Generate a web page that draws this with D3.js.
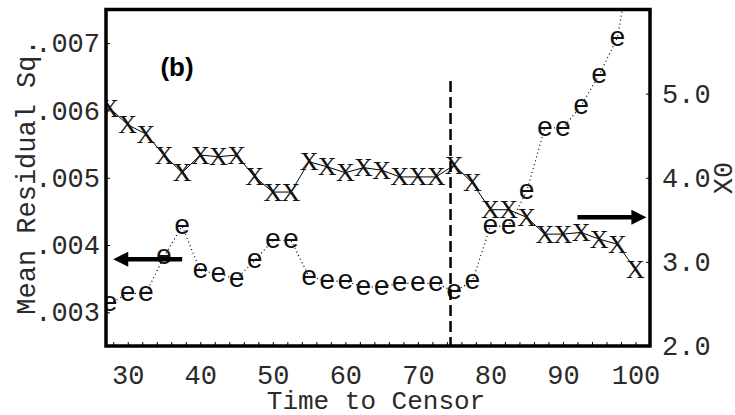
<!DOCTYPE html>
<html>
<head>
<meta charset="utf-8">
<script src="https://cdn.jsdelivr.net/npm/d3@7"></script>
<style>
  body { margin: 0; background: white; }
  svg { display: block; }
</style>
</head>
<body>
<div id="vis"></div>
<script>
// chart data
let timeToCensor = [27.5, 30, 32.5, 35, 37.5, 40, 42.5, 45, 47.5, 50, 52.5, 55, 57.5, 60, 62.5,
  65, 67.5, 70, 72.5, 75, 77.5, 80, 82.5, 85, 87.5, 90, 92.5, 95, 97.5, 100];
// "X" markers, right axis (X0)
let x0Values = [4.83, 4.63, 4.52, 4.27, 4.06, 4.27, 4.25, 4.27, 4.01, 3.83, 3.83, 4.19, 4.13, 4.06, 4.12,
  4.09, 4.01, 4.01, 4.01, 4.15, 3.94, 3.62, 3.62, 3.53, 3.33, 3.33, 3.35, 3.27, 3.21, 2.91];
// "e" markers, left axis (Mean Residual Sq.)
let mrsValues = [.00313, .00328, .00328, .00383, .00428, .00362, .00357, .00350, .00377, .00407, .00407,
  .00353, .00347, .00346, .00338, .00338, .00343, .00343, .00343, .00331, .00346, .00428, .00428,
  .00480, .00574, .00574, .00607, .00653, .00708, .0086];
let xTicks = [30, 40, 50, 60, 70, 80, 90, 100];
let leftTicks = [.003, .004, .005, .006, .007];
let rightTicks = [2, 3, 4, 5];
let censorTime = 74.5;
let censorTop = 5.15;   // top of the dashed line, right-axis units

let margin = { top: 9.5, left: 106, right: 85, bottom: 69 },
  W = 735, H = 415,
  width = W - margin.left - margin.right,
  height = H - margin.top - margin.bottom;

let mono = '"Liberation Mono", "Courier New", monospace';

let svg = d3.select('#vis')
  .append('svg')
  .attr('width', W)
  .attr('height', H)
  .style('background-color', 'white');

let x = d3.scaleLinear().domain([27, 102]).range([margin.left, margin.left + width]);
let yL = d3.scaleLinear().domain([0.0025, 0.0075]).range([margin.top + height, margin.top]);
let yR = d3.scaleLinear().domain([2, 6]).range([margin.top + height, margin.top]);

svg.append('defs').append('clipPath').attr('id', 'plot')
  .append('rect')
  .attr('x', margin.left).attr('y', margin.top)
  .attr('width', width).attr('height', height);

// axes
let fmtL = d => d3.format('.3f')(d).replace(/^0/, '');

let gx = svg.append('g')
  .attr('transform', `translate(0,${margin.top + height})`);
gx.append('g')
  .call(d3.axisBottom(x).tickValues(d3.range(28, 102, 2)).tickSize(-4).tickFormat(''));
gx.append('g')
  .call(d3.axisBottom(x).tickValues(xTicks).tickSize(0).tickPadding(19));

let gl = svg.append('g')
  .attr('transform', `translate(${margin.left},0)`)
  .call(d3.axisLeft(yL).tickValues(leftTicks).tickSize(-4).tickPadding(6).tickFormat(fmtL));

let gr = svg.append('g')
  .attr('transform', `translate(${margin.left + width},0)`)
  .call(d3.axisRight(yR).tickValues(rightTicks).tickSize(-4).tickPadding(12).tickFormat(d3.format('.1f')));

svg.selectAll('.domain').remove();
svg.selectAll('.tick line').attr('stroke', '#000').attr('stroke-width', 1);
svg.selectAll('.tick text')
  .attr('font-family', mono)
  .attr('font-size', 27)
  .attr('fill', '#2a2a2a');

// series
let plot = svg.append('g').attr('clip-path', 'url(#plot)');

plot.append('path')
  .datum(timeToCensor.map((t, i) => [t, mrsValues[i]]))
  .attr('fill', 'none')
  .attr('stroke', '#000')
  .attr('stroke-width', 1.2)
  .attr('stroke-dasharray', '1,3')
  .attr('d', d3.line().x(d => x(d[0])).y(d => yL(d[1])));

plot.append('path')
  .datum(timeToCensor.map((t, i) => [t, x0Values[i]]))
  .attr('fill', 'none')
  .attr('stroke', '#000')
  .attr('stroke-width', 1)
  .attr('d', d3.line().x(d => x(d[0])).y(d => yR(d[1])));

// markers whose value runs past the top of the frame are not drawn (the line still runs off)
let eMarks = timeToCensor.map((t, i) => [t, mrsValues[i]]).filter(d => d[1] <= yL.domain()[1]);

plot.selectAll('.e-mark')
  .data(eMarks)
  .join('text')
  .attr('class', 'e-mark')
  .attr('x', d => x(d[0]))
  .attr('y', d => yL(d[1]))
  .attr('dy', '0.28em')
  .attr('text-anchor', 'middle')
  .attr('font-family', mono)
  .attr('font-size', 28)
  .attr('fill', '#111')
  .text('e');

plot.selectAll('.x-mark')
  .data(timeToCensor)
  .join('text')
  .attr('class', 'x-mark')
  .attr('x', d => x(d))
  .attr('y', (d, i) => yR(x0Values[i]))
  .attr('dy', '0.33em')
  .attr('text-anchor', 'middle')
  .attr('font-family', '"Liberation Serif", "Times New Roman", serif')
  .attr('font-size', 26)
  .attr('fill', '#111')
  .text('X');

// censoring line
svg.append('line')
  .attr('x1', x(censorTime)).attr('x2', x(censorTime))
  .attr('y1', yR(censorTop)).attr('y2', margin.top + height)
  .attr('stroke', '#000')
  .attr('stroke-width', 2.5)
  .attr('stroke-dasharray', '11,5');

// arrows pointing at the axes
function arrow(x1, x2, yy) {
  let dir = Math.sign(x2 - x1);
  svg.append('line')
    .attr('x1', x1).attr('x2', x2 - dir * 12)
    .attr('y1', yy).attr('y2', yy)
    .attr('stroke', '#000')
    .attr('stroke-width', 4.5);
  svg.append('path')
    .attr('d', `M${x2},${yy} L${x2 - dir * 15},${yy - 7.5} L${x2 - dir * 15},${yy + 7.5} Z`)
    .attr('fill', '#000');
}
arrow(x(37.5), x(28), yL(0.00379));
arrow(x(92), x(101.5), yR(3.53));

// frame
svg.append('rect')
  .attr('x', margin.left).attr('y', margin.top)
  .attr('width', width).attr('height', height)
  .attr('fill', 'none')
  .attr('stroke', '#000')
  .attr('stroke-width', 3.5);

// labels
svg.append('text')
  .attr('x', 177).attr('y', 76)
  .attr('text-anchor', 'middle')
  .attr('font-family', '"Liberation Sans", Arial, sans-serif')
  .attr('font-weight', 'bold')
  .attr('font-size', 26)
  .text('(b)');

svg.append('text')
  .attr('x', 376).attr('y', 409)
  .attr('text-anchor', 'middle')
  .attr('font-family', mono)
  .attr('font-size', 26)
  .attr('fill', '#2a2a2a')
  .text('Time to Censor');

svg.append('text')
  .attr('transform', 'translate(35,177) rotate(-90)')
  .attr('text-anchor', 'middle')
  .attr('font-family', mono)
  .attr('font-size', 27)
  .attr('fill', '#2a2a2a')
  .text('Mean Residual Sq.');

svg.append('text')
  .attr('transform', 'translate(732,178) rotate(-90)')
  .attr('text-anchor', 'middle')
  .attr('font-family', mono)
  .attr('font-size', 27)
  .attr('fill', '#2a2a2a')
  .text('X0');
</script>
</body>
</html>
